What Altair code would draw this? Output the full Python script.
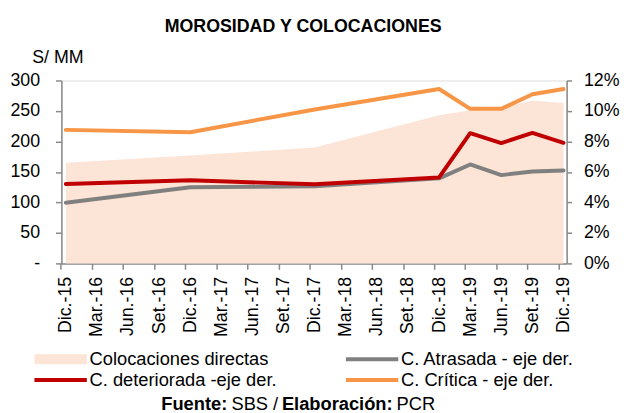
import altair as alt
import pandas as pd

# ---- data ----
categories = ["Dic.-15", "Mar.-16", "Jun.-16", "Set.-16", "Dic.-16", "Mar.-17", "Jun.-17",
              "Set.-17", "Dic.-17", "Mar.-18", "Jun.-18", "Set.-18", "Dic.-18", "Mar.-19",
              "Jun.-19", "Set.-19", "Dic.-19"]
periods = ["Dic.-15", "Dic.-16", "Dic.-17", "Dic.-18", "Mar.-19", "Jun.-19", "Set.-19", "Dic.-19"]
colocaciones = [165, 177, 190, 243, 251, 255, 267, 263]          # S/ MM (left axis)
atrasada = [3.98, 5.00, 5.06, 5.58, 6.49, 5.79, 6.03, 6.10]       # % (right axis)
deteriorada = [5.21, 5.45, 5.19, 5.64, 8.54, 7.89, 8.56, 7.91]
critica = [8.76, 8.60, 10.10, 11.44, 10.14, 10.14, 11.10, 11.44]

s_area = "Colocaciones directas"
s_atr = "C. Atrasada - eje der."
s_det = "C. deteriorada -eje der."
s_cri = "C. Crítica - eje der."
# legend fills column by column: col 1 = area, deteriorada ; col 2 = atrasada, crítica
series_names = [s_area, s_det, s_atr, s_cri]
series_colors = ["#FCE4D6", "#C00000", "#808080", "#F79646"]

idx = [categories.index(p) for p in periods]

area_df = pd.DataFrame({"i": idx, "periodo": periods, "valor": colocaciones, "serie": s_area})
lines_df = pd.concat([
    pd.DataFrame({"i": idx, "periodo": periods, "pct": [v / 100 for v in vals], "serie": name})
    for name, vals in [(s_atr, atrasada), (s_det, deteriorada), (s_cri, critica)]
])

FONT = "Liberation Sans"
AX = "#898989"
label_js = "[" + ",".join("'" + c + "'" for c in categories) + "]"

color = alt.Color(
    "serie:N",
    scale=alt.Scale(domain=series_names, range=series_colors),
    legend=alt.Legend(
        title=None, orient="none", legendX=-29, legendY=271.5, columns=2,
        symbolType="stroke", symbolSize=2809, clipHeight=21, symbolOffset=19,
        symbolStrokeWidth=alt.ExprRef("datum.value == 'Colocaciones directas' ? 10 : 4"),
        symbolStrokeColor=alt.ExprRef("scale('color', datum.value)"),
        symbolFillColor="transparent", symbolOpacity=1,
        labelFont=FONT, labelFontSize=18.5, labelColor="#000", labelLimit=400,
        labelOffset=20, columnPadding=68, rowPadding=0, padding=0,
    ),
)

x_enc = alt.X(
    "i:Q",
    scale=alt.Scale(domain=[-0.143, 16.10], nice=False, zero=False),
    axis=alt.Axis(
        values=list(range(len(categories))), labelExpr=label_js + "[datum.value]",
        labelAngle=270, labelFont=FONT, labelFontSize=18, labelColor="#000",
        labelPadding=7, tickSize=6, tickOffset=-5, labelOffset=5,
        domainColor=AX, tickColor=AX, domainWidth=1.5, tickWidth=1.5,
        grid=False, title=None, labelOverlap=False,
    ),
)

area = alt.Chart(area_df).mark_area(opacity=1, interpolate="linear").encode(
    x=x_enc,
    y=alt.Y(
        "valor:Q",
        scale=alt.Scale(domain=[0, 300], nice=False),
        axis=alt.Axis(
            values=[0, 50, 100, 150, 200, 250, 300],
            labelExpr="datum.value == 0 ? '-' : datum.label",
            labelFont=FONT, labelFontSize=18, labelColor="#000", labelPadding=16,
            tickSize=6, domainColor=AX, tickColor=AX, domainWidth=1.5, tickWidth=1.5,
            grid=False, title="S/ MM", titleAngle=0, titleAlign="left",
            titleBaseline="alphabetic", titleX=-30, titleY=-18, titleFont=FONT,
            titleFontSize=18, titleFontWeight="normal", titleColor="#000",
        ),
    ),
    color=color,
)

lines = alt.Chart(lines_df).mark_line(strokeWidth=4, strokeCap="round", strokeJoin="round").encode(
    x=x_enc,
    y=alt.Y(
        "pct:Q",
        scale=alt.Scale(domain=[0, 0.12], nice=False),
        axis=alt.Axis(
            orient="right", values=[0, 0.02, 0.04, 0.06, 0.08, 0.10, 0.12], format=".0%",
            labelFont=FONT, labelFontSize=18, labelColor="#000", labelPadding=12,
            tickSize=5, domainColor=AX, tickColor=AX, domainWidth=1.5, tickWidth=1.5,
            grid=False, title=None,
        ),
    ),
    color=color,
    detail="serie:N",
)

foot_y = 333
def foot(text, xpos, bold):
    return alt.Chart(alt.Data(values=[{"t": text}])).mark_text(
        font=FONT, fontSize=18.5, fontWeight="bold" if bold else "normal",
        align="left", baseline="alphabetic", color="#000",
    ).encode(text="t:N", x=alt.value(xpos), y=alt.value(foot_y))

footer = (foot("Fuente:", 101, True) + foot("SBS /", 172, False)
          + foot("Elaboración:", 223, True) + foot("PCR", 339, False))

chart = alt.layer(area, lines, footer).resolve_scale(y="independent").properties(
    width=511, height=185,
    title=alt.TitleParams("MOROSIDAD Y COLOCACIONES", font=FONT, fontSize=18,
                          fontWeight="bold", color="#000", anchor="middle",
                          frame="group", dx=-11, dy=17, offset=16, baseline="alphabetic"),
    autosize=alt.AutoSizeParams(type="none"),
    padding={"left": 54, "top": 71, "right": 56, "bottom": 150},
).configure_view(stroke=None).configure(background="white")

chart.save("out.html", embed_options={"renderer": "svg", "actions": False})
